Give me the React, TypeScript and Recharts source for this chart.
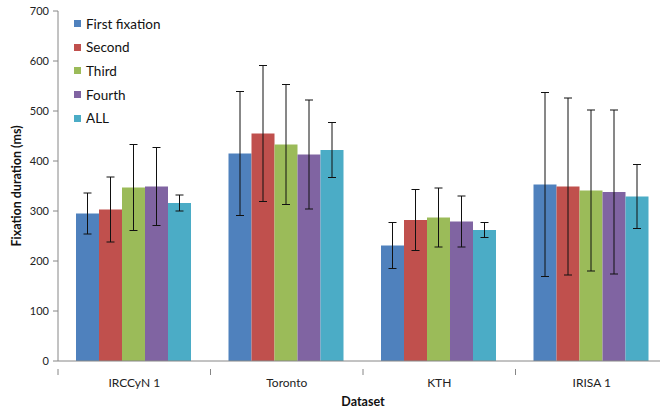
import React from 'react';
import { BarChart, Bar, XAxis, YAxis, ErrorBar } from 'recharts';

const categories = ['IRCCyN 1', 'Toronto', 'KTH', 'IRISA 1'];
const firstFix = [295, 415, 231, 353];
const firstErr = [41, 124, 46, 184];
const second = [303, 455, 282, 349];
const secondErr = [65, 136, 61, 177];
const third = [347, 433, 287, 341];
const thirdErr = [86, 120, 59, 161];
const fourth = [349, 413, 279, 338];
const fourthErr = [78, 109, 51, 164];
const all = [316, 422, 262, 329];
const allErr = [16, 55, 15, 64];
const yTicks = [0, 100, 200, 300, 400, 500, 600, 700];

const series = [
  { key: 'first', err: 'firstErr', name: 'First fixation', color: '#4F81BD' },
  { key: 'second', err: 'secondErr', name: 'Second', color: '#C0504D' },
  { key: 'third', err: 'thirdErr', name: 'Third', color: '#9BBB59' },
  { key: 'fourth', err: 'fourthErr', name: 'Fourth', color: '#8064A2' },
  { key: 'all', err: 'allErr', name: 'ALL', color: '#4BACC6' },
];

const data = categories.map((c, i) => ({
  name: c,
  first: firstFix[i], firstErr: firstErr[i],
  second: second[i], secondErr: secondErr[i],
  third: third[i], thirdErr: thirdErr[i],
  fourth: fourth[i], fourthErr: fourthErr[i],
  all: all[i], allErr: allErr[i],
}));

const FONT = 'Lato, "Open Sans", sans-serif';

const CatTick = (props: any) => {
  const { x, y, payload, index } = props;
  const off = payload && payload.offset ? payload.offset : 0;
  const last = index === categories.length - 1;
  return (
    <g>
      <line x1={x - off} y1={y} x2={x - off} y2={y + 6} stroke="#868686" />
      {last && <line x1={x + off} y1={y} x2={x + off} y2={y + 6} stroke="#868686" />}
      <text x={x} y={y + 18} textAnchor="middle" fontSize={12} fontFamily={FONT} fill="#222">
        {payload.value}
      </text>
    </g>
  );
};

export default function App() {
  return (
    <div style={{ position: 'absolute', left: 0, top: 0, width: 660, height: 414, overflow: 'hidden', background: '#fff' }}>
      <BarChart
        width={676}
        height={414}
        data={data}
        margin={{ top: 11, right: 8, bottom: 0, left: 0 }}
        barCategoryGap={18}
        barGap={0}
      >
        <XAxis
          dataKey="name"
          height={53}
          axisLine={{ stroke: '#868686' }}
          tickLine={false}
          interval={0}
          tick={<CatTick />}
          label={{ value: 'Dataset', position: 'insideBottom', offset: 8, fontSize: 12.5, fontWeight: 'bold', fontFamily: FONT, fill: '#111' }}
        />
        <YAxis
          width={58}
          domain={[0, 700]}
          ticks={yTicks}
          interval={0}
          axisLine={{ stroke: '#868686' }}
          tickLine={{ stroke: '#868686' }}
          tickSize={5}
          tickMargin={4}
          tick={{ fontSize: 11, fontFamily: FONT, fill: '#222' }}
          label={{ value: 'Fixation duration (ms)', angle: -90, position: 'insideLeft', offset: 17, fontSize: 12.5, fontWeight: 'bold', fontFamily: FONT, fill: '#111', style: { textAnchor: 'middle' } }}
        />
        {series.map((s) => (
          <Bar key={s.key} dataKey={s.key} name={s.name} fill={s.color} isAnimationActive={false}>
            <ErrorBar dataKey={s.err} width={4} stroke="#111" strokeWidth={1} />
          </Bar>
        ))}
      </BarChart>
      <div style={{ position: 'absolute', left: 74, top: 12, fontFamily: FONT, fontSize: 13.5, color: '#111' }}>
        {series.map((s) => (
          <div key={s.key} style={{ display: 'flex', alignItems: 'center', height: 23.6 }}>
            <span style={{ display: 'inline-block', width: 7, height: 7, background: s.color, marginRight: 5 }} />
            <span>{s.name}</span>
          </div>
        ))}
      </div>
    </div>
  );
}
